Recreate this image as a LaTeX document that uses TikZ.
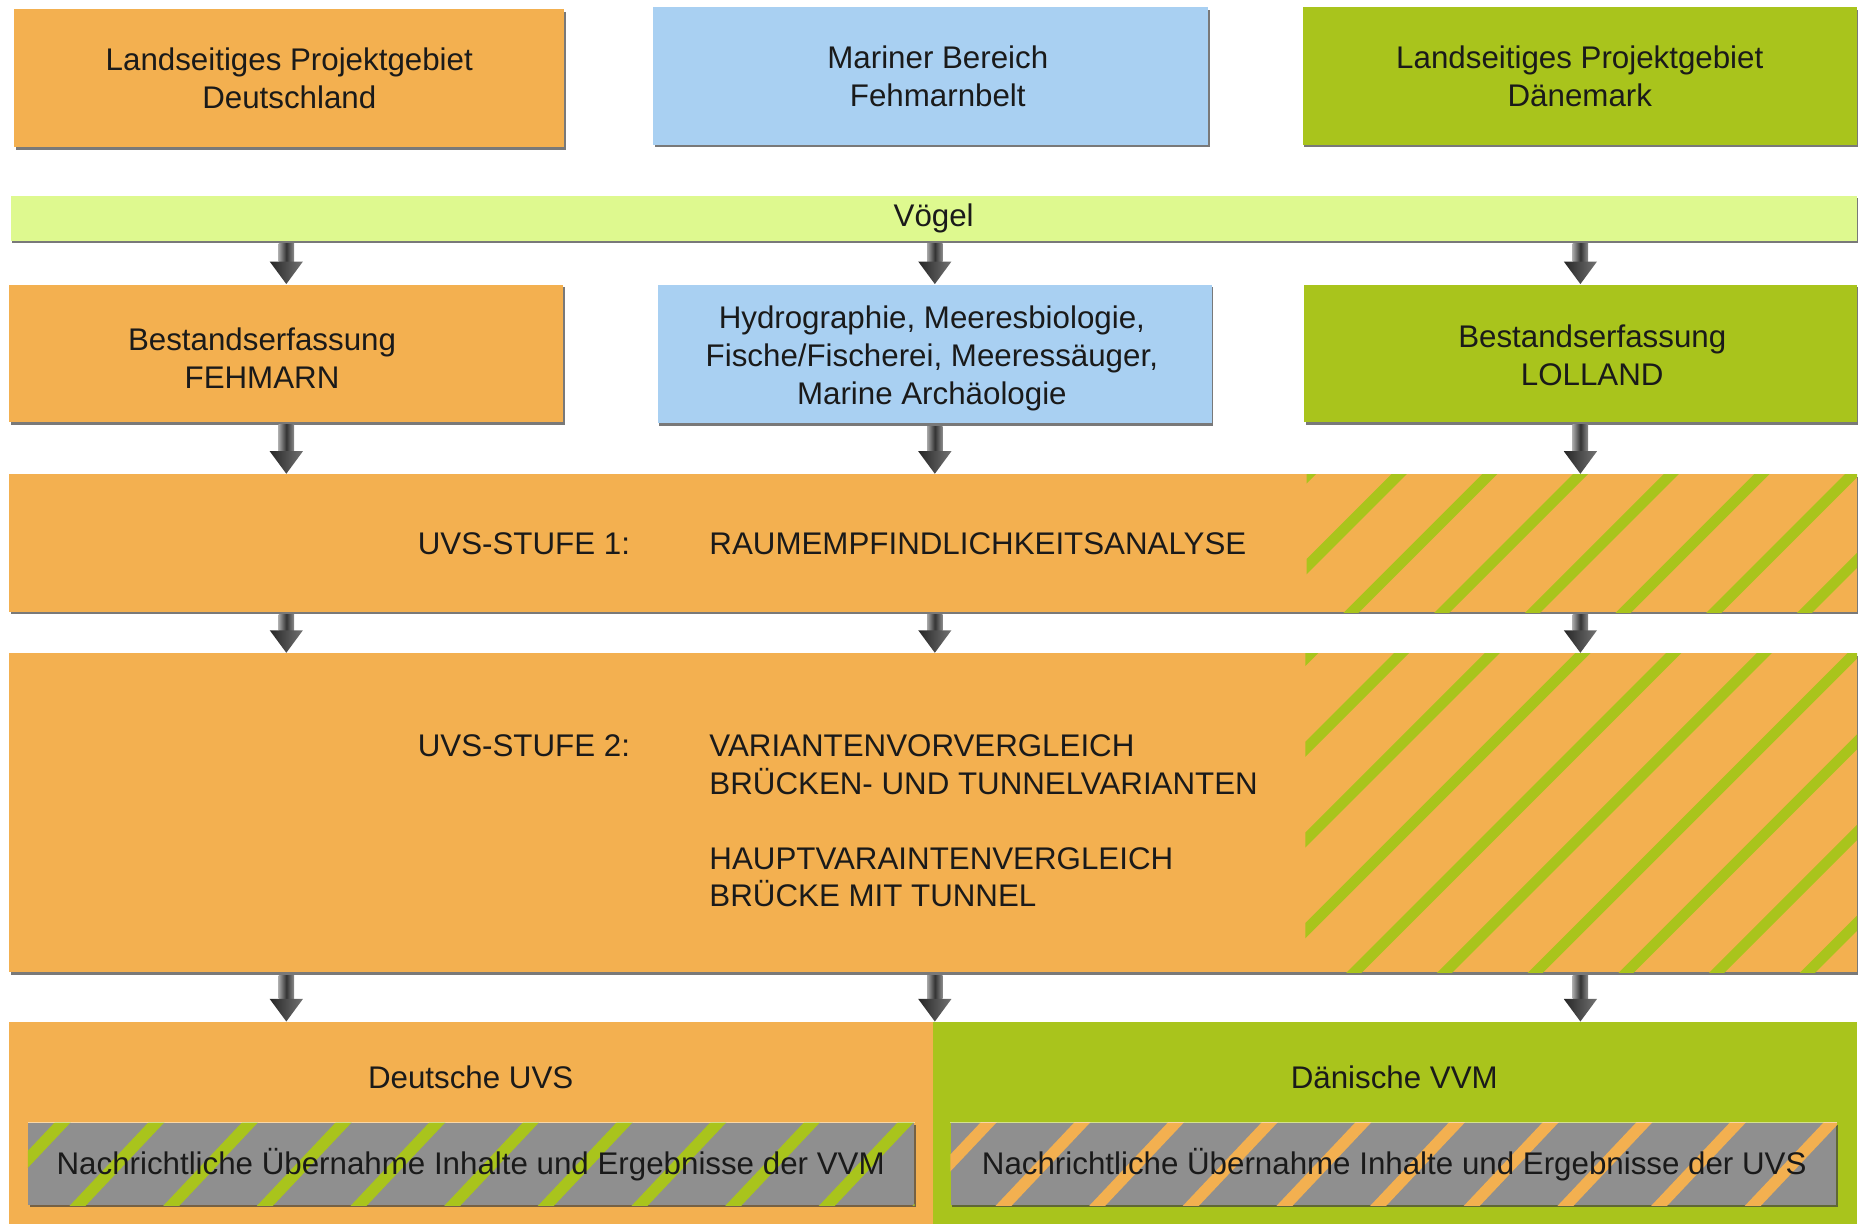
\documentclass[tikz,border=0pt]{standalone}
\usepackage{fontspec}
\setmainfont{Liberation Sans}
\usetikzlibrary{calc,shadows}
\definecolor{cor}{HTML}{F3B050}
\definecolor{cbl}{HTML}{A9D0F2}
\definecolor{cgr}{HTML}{A9C41C}
\definecolor{cvg}{HTML}{DEF98F}
\definecolor{cgy}{HTML}{8F8F8F}
\definecolor{ctext}{HTML}{1A1A1A}
\newcommand{\blockarr}[2]{%
  \coordinate (bA) at #1; \coordinate (bB) at #2;
  \shade[left color=black!35, right color=black!45, middle color=black!80]
    ($(bA)+(-6.5,2)$) rectangle ($(bB)+(6.5,-19)$);
  \shade[left color=black!85, right color=black!55]
    ($(bB)+(-14,-19)$) -- ($(bB)+(14,-19)$) -- (bB) -- cycle;
}
\begin{document}
\begin{tikzpicture}[x=0.5pt,y=-0.5pt,
  font=\fontsize{13.2}{16}\selectfont,
  sz/.style 2 args={minimum width=#1*0.5pt, minimum height=#2*0.5pt},
  box/.style={rectangle, inner sep=0pt, align=center, text=ctext,
    drop shadow={shadow xshift=0.6pt, shadow yshift=-1.1pt, opacity=0.7, fill=black!75}},
  flat/.style={rectangle, inner sep=0pt, draw=none},
  txt/.style={inner sep=0pt, align=center, text=ctext},
  hatch/.style={line width=4.5pt},
  ghatch/.style={line width=4.9pt}]
\useasboundingbox (0,0) rectangle (1568,1032);

% top row
\node[box, fill=cor, sz={464}{116}] (a) at (244,66) {Landseitiges Projektgebiet\\Deutschland};
\node[box, fill=cbl, sz={468}{116}] (b) at (785,64) {};
\node[txt] (bt) at (791,64) {Mariner Bereich\\Fehmarnbelt};
\node[box, fill=cgr, sz={467}{116}] (c) at (1332.5,64) {Landseitiges Projektgebiet\\Dänemark};

% Voegel bar
\node[box, fill=cvg, sz={1557}{38}] (v) at (787.5,184) {Vögel};

% second row
\node[box, fill=cor, sz={467}{116}] (d) at (241.5,298) {};
\node[txt] (dt) at (221,302) {Bestandserfassung\\FEHMARN};
\node[box, fill=cbl, sz={467}{117}] (e) at (788.5,298.5) {};
\node[txt] (et) at (786,302) {Hydrographie, Meeresbiologie,\\Fische/Fischerei, Meeressäuger,\\Marine Archäologie};
\node[box, fill=cgr, sz={466}{116}] (f) at (1333,298) {};
\node[txt] (ft) at (1343,300) {Bestandserfassung\\LOLLAND};

% stage 1
\node[box, fill=cor, sz={1558}{116}] (s1) at (787,458) {};
\coordinate (h1) at (1102,400);
\begin{scope}
  \clip (h1) rectangle (s1.south east);
  \foreach \k in {-4,...,9} \draw[hatch, cgr] (1733+76.5*\k-300,300) -- (1733+76.5*\k-900,900);
\end{scope}
\node[txt, anchor=west] (s1a) at (352,459) {UVS-STUFE 1:};
\node[txt, anchor=west] (s1b) at (598,459) {RAUMEMPFINDLICHKEITSANALYSE};

% stage 2
\node[box, fill=cor, sz={1558}{269}] (s2) at (787,685.5) {};
\coordinate (h2) at (1101,551);
\begin{scope}
  \clip (h2) rectangle (s2.south east);
  \foreach \k in {-4,...,9} \draw[hatch, cgr] (1733+76.5*\k-300,300) -- (1733+76.5*\k-900,900);
\end{scope}
\node[txt, anchor=west] (s2a) at (352,629) {UVS-STUFE 2:};
\node[txt, anchor=north west, align=left, font=\fontsize{13.2}{15.8}\selectfont] (s2b) at (598,619.5)
  {VARIANTENVORVERGLEICH\\BRÜCKEN- UND TUNNELVARIANTEN\\[15.8pt]HAUPTVARAINTENVERGLEICH\\BRÜCKE MIT TUNNEL};

% bottom
\node[flat, fill=cor, sz={779}{170}] (bl) at (397.5,947) {};
\node[flat, fill=cgr, sz={779}{170}] (br) at (1176.5,947) {};
\node[txt] (blt) at (397,909) {Deutsche UVS};
\node[txt] (brt) at (1176,909) {Dänische VVM};

\node[box, fill=cgy, sz={747}{69}] (gl) at (397.5,981.5) {};
\begin{scope}
  \clip (gl.north west) rectangle (gl.south east);
  \foreach \k in {-1,...,10} \draw[ghatch, cgr] (53+79*\k+10,936) -- (53+79*\k-75,1026);
\end{scope}
\draw[white, opacity=0.5, line width=0.6pt] (gl.north west) -- (gl.north east);
\node[txt] (glt) at (397,982) {Nachrichtliche Übernahme Inhalte und Ergebnisse der VVM};

\node[box, fill=cgy, sz={747}{69}] (gr) at (1175.5,981.5) {};
\begin{scope}
  \clip (gr.north west) rectangle (gr.south east);
  \foreach \k in {-1,...,10} \draw[ghatch, cor] (834+79*\k+10,936) -- (834+79*\k-75,1026);
\end{scope}
\draw[white, opacity=0.5, line width=0.6pt] (gr.north west) -- (gr.north east);
\node[txt] (grt) at (1176,982) {Nachrichtliche Übernahme Inhalte und Ergebnisse der UVS};

% arrows
\blockarr{(v.south -| d.north)}{(d.north)}
\blockarr{(v.south -| e.north)}{(e.north)}
\blockarr{(v.south -| f.north)}{(f.north)}
\blockarr{(d.south)}{(s1.north -| d.south)}
\blockarr{(e.south)}{(s1.north -| e.south)}
\blockarr{(f.south)}{(s1.north -| f.south)}
\blockarr{(s1.south -| d.south)}{(s2.north -| d.south)}
\blockarr{(s1.south -| e.south)}{(s2.north -| e.south)}
\blockarr{(s1.south -| f.south)}{(s2.north -| f.south)}
\blockarr{(s2.south -| d.south)}{(bl.north -| d.south)}
\blockarr{(s2.south -| e.south)}{(bl.north -| e.south)}
\blockarr{(s2.south -| f.south)}{(br.north -| f.south)}
\end{tikzpicture}
\end{document}
